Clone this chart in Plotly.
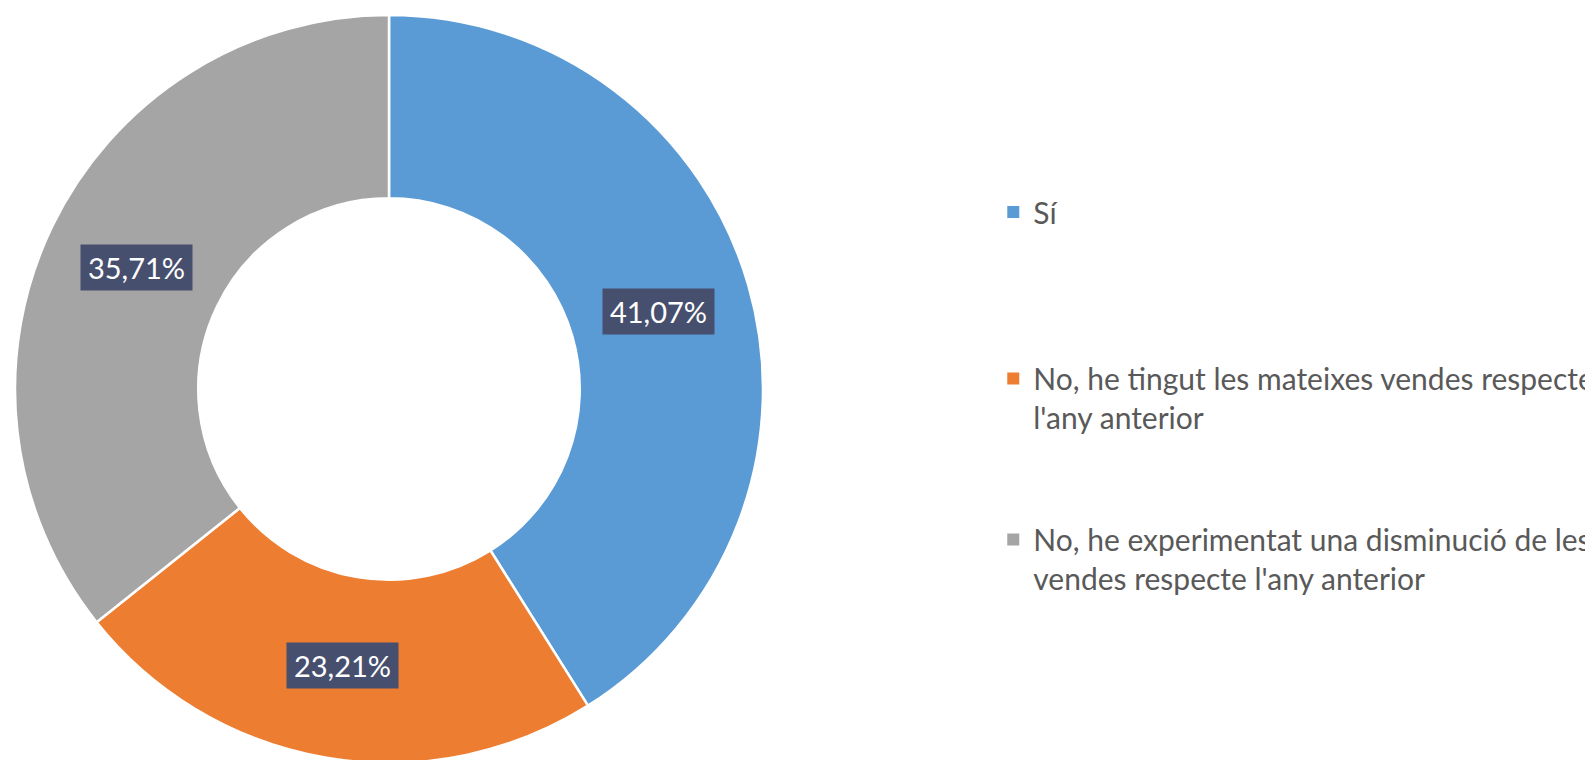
import math
import plotly.graph_objects as go

categories = [
    "Sí",
    "No, he tingut les mateixes vendes respecte<br>l'any anterior",
    "No, he experimentat una disminució de les<br>vendes respecte l'any anterior",
]
counts = [23, 13, 20]
colors = ["#5B9BD5", "#ED7D31", "#A5A5A5"]

W, H = 1593, 760
mt, mb = 7, 5
ph = H - mt - mb
cx_px = 381
hole = 0.51
R_draw = 367  # rendered outer radius in px (used to place labels)

fig = go.Figure()
fig.add_trace(go.Pie(
    labels=categories, values=counts, sort=False, direction="clockwise",
    rotation=0, hole=hole, marker=dict(colors=colors, line=dict(color="white", width=2.5)),
    textinfo="none", hoverinfo="none", showlegend=False,
    domain=dict(x=[0, 2 * cx_px / W], y=[0, 1]),
))

# data labels in dark boxes, positioned at the middle of each slice
total = sum(counts)
acc = 0.0
rmid = R_draw * (1 + hole) / 2 + 3
for c in counts:
    frac = c / total
    mid = (acc + frac / 2) * 2 * math.pi
    acc += frac
    dx = math.sin(mid) * rmid
    dy = math.cos(mid) * rmid
    txt = f"{frac * 100:.2f}%".replace(".", ",")
    fig.add_annotation(
        x=(cx_px + dx) / W, y=0.5 + dy / ph, xref="paper", yref="paper",
        xanchor="center", yanchor="middle",
        text=txt, showarrow=False, bgcolor="#474F6E", borderpad=5,
        width=101, height=35,
        font=dict(family="Lato", size=29, color="white"),
    )

# legend entries (three separate legends so they can sit where the original has them)
legend_names = ["legend", "legend2", "legend3"]
legend_centers = [204, 390, 551]
for name, col, lg in zip(categories, colors, legend_names):
    fig.add_trace(go.Scatter(
        x=[None], y=[None], mode="markers", name=name,
        marker=dict(symbol="square", size=12, color=col),
        legend=lg, hoverinfo="none",
    ))

lkw = dict(font=dict(family="Lato", size=30, color="#595959"), valign="top",
           bgcolor="rgba(0,0,0,0)", xanchor="left", yanchor="middle", x=0.6185)
layout_legends = {}
for lg, yc in zip(legend_names, legend_centers):
    layout_legends[lg] = dict(lkw, y=(H - mb - yc) / ph)

fig.update_layout(
    width=W, height=H,
    margin=dict(l=0, r=0, t=mt, b=mb),
    paper_bgcolor="white", plot_bgcolor="white",
    xaxis=dict(visible=False), yaxis=dict(visible=False),
    **layout_legends,
)

fig.write_html("out.html")
